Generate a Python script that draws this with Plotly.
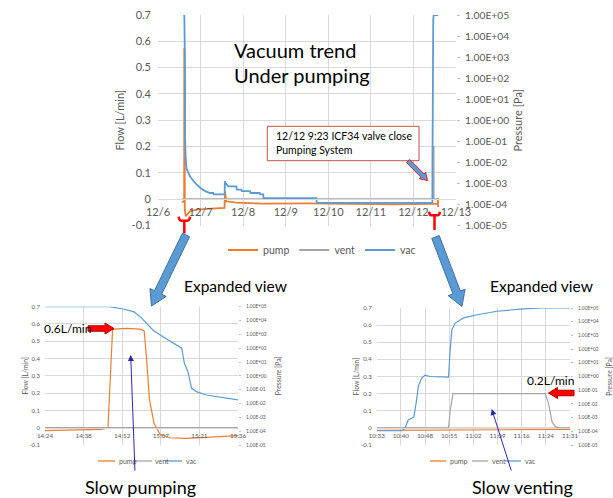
import math
import plotly.graph_objects as go

W, H = 613, 498
FONT = "Lato, 'Open Sans', sans-serif"
GRID = "#D9D9D9"
TXT = "#595959"
C_PUMP, C_VENT, C_VAC = "#ED7D31", "#A5A5A5", "#5B9BD5"

# ---------------- data: main trend (whole week) ----------------
main_pump_time = ["12/6 13:30", "12/6 14:45", "12/6 14:49", "12/6 15:00", "12/6 15:07", "12/6 15:40",
                  "12/6 18:00", "12/6 22:00", "12/7 06:00", "12/7 13:30", "12/7 13:45", "12/7 14:30",
                  "12/7 20:00", "12/8 11:00", "12/9 12:00", "12/10 12:00", "12/11 12:00", "12/12 10:30",
                  "12/12 13:40", "12/12 13:48", "12/12 13:55"]
main_pump_flow = [-0.01, -0.01, 0.57, 0.57, -0.04, -0.065,
                  -0.046, -0.04, -0.036, -0.033, 0.03, -0.008,
                  -0.013, -0.017, -0.016, -0.017, -0.02, -0.018,
                  -0.018, 0.004, -0.03]
main_vent_time = ["12/6 13:30", "12/12 10:55", "12/12 10:56", "12/12 11:23", "12/12 11:26", "12/12 13:55"]
main_vent_flow = [0.0, 0.0, 0.2, 0.2, 0.0, 0.0]
main_vac_time = ["12/6 14:24", "12/6 14:48", "12/6 14:53", "12/6 15:00", "12/6 15:07", "12/6 15:15",
                 "12/6 15:18", "12/6 15:21", "12/6 15:36", "12/6 16:05", "12/6 18:00", "12/6 20:53",
                 "12/6 23:46", "12/7 02:38", "12/7 05:17", "12/7 07:12", "12/7 07:26", "12/7 13:35",
                 "12/7 13:41", "12/7 13:55", "12/7 15:36", "12/7 20:10", "12/7 20:24", "12/7 23:02",
                 "12/7 23:17", "12/8 03:50", "12/8 04:05", "12/8 09:22", "12/8 09:36", "12/8 11:17",
                 "12/8 11:31", "12/9 17:17", "12/9 17:31", "12/12 10:42", "12/12 10:45", "12/12 10:48",
                 "12/12 10:55", "12/12 10:56", "12/12 11:00", "12/12 11:10", "12/12 11:23", "12/12 13:55"]
main_vac_pa = [1.0e5, 1.0e5, 6.8e4, 2.0e4, 8.0e2, 1.0e2,
               1.2e-1, 6.3e-2, 1.8e-2, 5.0e-3, 2.2e-3, 1.05e-3,
               6.2e-4, 4.3e-4, 3.5e-4, 3.5e-4, 3.0e-4, 3.0e-4,
               1.26e-3, 1.1e-3, 7.2e-4, 7.2e-4, 5.1e-4, 5.1e-4,
               4.3e-4, 4.3e-4, 3.5e-4, 3.5e-4, 3.0e-4, 3.0e-4,
               2.0e-4, 2.0e-4, 1.2e-4, 1.2e-4, 1.1e-2, 1.3,
               0.9, 2.6e3, 2.0e4, 5.8e4, 1.0e5, 1.0e5]
main_x_ticks = ["12/6", "12/7", "12/8", "12/9", "12/10", "12/11", "12/12", "12/13"]

# ---------------- data: expanded view, slow pumping (12/6) ----------------
pumpdown_time = ["14:24", "14:30", "14:38", "14:45", "14:47:30", "14:48:30", "14:49:12", "14:50",
                 "14:54:30", "14:59:30", "15:01", "15:01:50", "15:03", "15:04:40", "15:06:50",
                 "15:10:30", "15:16:40", "15:24:10", "15:36"]
pumpdown_pump = [-0.017, -0.016, -0.013, -0.01, 0.0, 0.3, 0.565, 0.57,
                 0.575, 0.57, 0.56, 0.41, 0.16, 0.025, -0.037,
                 -0.058, -0.062, -0.056, -0.046]
pumpdown_vent_time = ["14:24", "15:36"]
pumpdown_vent = [0.0, 0.0]
pumpdown_vac_time = ["14:24", "14:48", "14:53", "14:57", "14:59:30", "15:02", "15:04:20", "15:08",
                     "15:12", "15:15", "15:16", "15:17:20", "15:18:40", "15:20:30", "15:24:10",
                     "15:29", "15:36"]
pumpdown_vac = [1.0e5, 1.0e5, 6.8e4, 4.4e4, 1.9e4, 6.3e3, 2.0e3, 6.8e2,
                2.2e2, 1.0e2, 7.9e0, 2.0e0, 1.3e-1, 7.2e-2, 4.1e-2,
                2.8e-2, 1.8e-2]
pumpdown_ticks = ["14:24:00", "14:38:24", "14:52:48", "15:07:12", "15:21:36", "15:36:00"]

# ---------------- data: expanded view, slow venting (12/12) ----------------
venting_pump_time = ["10:33:36", "10:45", "10:55", "11:05", "11:15", "11:31:12"]
venting_pump = [-0.015, -0.014, -0.013, -0.012, -0.011, -0.009]
venting_vent_time = ["10:33:36", "10:55", "10:55:30", "10:56:20", "11:23:50", "11:24:50",
                     "11:25:50", "11:26:50", "11:28", "11:31:12"]
venting_vent = [0.0, 0.0, 0.1, 0.2, 0.2, 0.14, 0.036, 0.007, 0.0, 0.0]
venting_vac_time = ["10:33:36", "10:41", "10:42", "10:43", "10:44", "10:44:40", "10:45:20", "10:46",
                    "10:47", "10:48", "10:49:30", "10:52", "10:55", "10:55:30", "10:56", "10:57",
                    "10:59:30", "11:03:30", "11:09:30", "11:17", "11:23", "11:31:12"]
venting_vac = [1.1e-4, 1.1e-4, 1.6e-4, 6.8e-4, 8.9e-4, 1.1e-3, 1.1e-2, 1.9e-1,
               7.6e-1, 1.26, 1.0, 1.0, 0.9, 8.9e1, 2.6e3, 7.9e3,
               1.9e4, 3.2e4, 5.8e4, 8.5e4, 1.0e5, 1.0e5]
venting_ticks = ["10:33:36", "10:40:48", "10:48:00", "10:55:12", "11:02:24", "11:09:36",
                 "11:16:48", "11:24:00", "11:31:12"]

series_names = ["pump", "vent", "vac"]
flow_ticks = [-0.1, 0.0, 0.1, 0.2, 0.3, 0.4, 0.5, 0.6, 0.7]
flow_tick_labels = ["-0.1", "0", "0.1", "0.2", "0.3", "0.4", "0.5", "0.6", "0.7"]
pressure_exponents = [-5, -4, -3, -2, -1, 0, 1, 2, 3, 4, 5]
pressure_tick_labels = ["1.00E-05", "1.00E-04", "1.00E-03", "1.00E-02", "1.00E-01", "1.00E+00",
                        "1.00E+01", "1.00E+02", "1.00E+03", "1.00E+04", "1.00E+05"]


def dec_day(s):
    d, t = s.split()
    parts = [int(p) for p in t.split(":")]
    return int(d.split("/")[1]) + parts[0] / 24 + parts[1] / 1440


def minutes(s):
    parts = [int(p) for p in s.split(":")] + [0]
    return parts[0] * 60 + parts[1] + parts[2] / 60


def px(x):
    return x / W


def py(y):
    return 1 - y / H


fig = go.Figure()
COLORS = [C_PUMP, C_VENT, C_VAC]


def add_set(series, xa, ya, yb, width, showleg):
    for (xs, ys), name, col, yax in zip(series, series_names, COLORS, [ya, ya, yb]):
        fig.add_trace(go.Scatter(x=xs, y=ys, name=name, mode="lines", xaxis=xa, yaxis=yax,
                                 line=dict(color=col, width=width), showlegend=showleg,
                                 legendgroup=name))


add_set([([dec_day(t) for t in main_pump_time], main_pump_flow),
         ([dec_day(t) for t in main_vent_time], main_vent_flow),
         ([dec_day(t) for t in main_vac_time], main_vac_pa)], "x", "y", "y2", 1.8, True)
add_set([([minutes(t) for t in pumpdown_time], pumpdown_pump),
         ([minutes(t) for t in pumpdown_vent_time], pumpdown_vent),
         ([minutes(t) for t in pumpdown_vac_time], pumpdown_vac)], "x2", "y3", "y4", 1.2, False)
add_set([([minutes(t) for t in venting_pump_time], venting_pump),
         ([minutes(t) for t in venting_vent_time], venting_vent),
         ([minutes(t) for t in venting_vac_time], venting_vac)], "x3", "y5", "y6", 1.2, False)


def axes(xname, yname, yref, y2name, xref, xdom, ydom, xrange, xticks, xlabels, st):
    zero_pos = ydom[0] + (0 - (-0.1)) / 0.8 * (ydom[1] - ydom[0])

    def f(sz):
        return dict(family=FONT, size=sz, color=TXT)

    fig.layout[xname] = dict(domain=xdom, anchor="free", position=zero_pos, range=xrange,
                             tickmode="array", tickvals=xticks, ticktext=xlabels, automargin=False,
                             showgrid=True, gridcolor=GRID, gridwidth=1, showline=True,
                             linecolor=GRID, zeroline=False, ticks="", ticklabelstandoff=st["xs"],
                             tickfont=f(st["xf"]))
    fig.layout[yname] = dict(domain=ydom, range=[-0.1, 0.7], tickmode="array", automargin=False,
                             tickvals=flow_ticks, ticktext=flow_tick_labels, showgrid=True,
                             gridcolor=GRID, zeroline=False, showline=False, ticks="",
                             ticklabelstandoff=st["ls"], tickfont=f(st["lf"]), anchor=xref,
                             title=dict(text="Flow [L/min]", font=f(st["tf"]), standoff=st["lt"]))
    fig.layout[y2name] = dict(overlaying=yref, side="right", type="log", range=[-5, 5],
                              tickmode="array", automargin=False,
                              tickvals=[10.0 ** e for e in pressure_exponents],
                              ticktext=pressure_tick_labels, showgrid=False, zeroline=False,
                              ticks="outside", ticklen=st["rl"], tickcolor="#BFBFBF",
                              ticklabelstandoff=st["rs"], tickfont=f(st["rf"]), anchor=xref,
                              title=dict(text="Pressure [Pa]", font=f(st["tf"]), standoff=st["rt"]))


main_style = dict(xf=11, xs=3, lf=11, ls=6, rf=10.3, rl=3, rs=3, tf=11, lt=4, rt=6)
small_style = dict(xf=6.3, xs=2, lf=6, ls=4, rf=4.8, rl=2, rs=4, tf=6.8, lt=0, rt=10)

axes("xaxis", "yaxis", "y", "yaxis2", "x", [px(158), px(456)], [py(225.5), py(15)],
     [6, 13], list(range(6, 14)), main_x_ticks, main_style)
axes("xaxis2", "yaxis3", "y3", "yaxis4", "x2", [px(45), px(238)], [py(445), py(306.7)],
     [minutes(pumpdown_ticks[0]), minutes(pumpdown_ticks[-1])],
     [minutes(t) for t in pumpdown_ticks], [t[:5] for t in pumpdown_ticks], small_style)
axes("xaxis3", "yaxis5", "y5", "yaxis6", "x3", [px(376.7), px(570)], [py(445), py(308)],
     [minutes(venting_ticks[0]), minutes(venting_ticks[-1])],
     [minutes(t) for t in venting_ticks], [t[:5] for t in venting_ticks], small_style)

fig.update_layout(legend=dict(orientation="h", x=px(322), y=py(250), xanchor="center",
                              yanchor="middle", font=dict(family=FONT, size=10.5, color=TXT),
                              bgcolor="rgba(0,0,0,0)", itemwidth=30, tracegroupgap=0))

shapes = []
ann = []


def small_legend(x_starts, y, seg, fs):
    # compact legend rows under the expanded-view charts
    for x0, name, col in zip(x_starts, series_names, COLORS):
        shapes.append(dict(type="line", xref="paper", yref="paper", x0=px(x0), x1=px(x0 + seg),
                           y0=py(y), y1=py(y), line=dict(color=col, width=1.3)))
        ann.append(dict(text=name, xref="paper", yref="paper", x=px(x0 + seg + 1.5), y=py(y),
                        xanchor="left", yanchor="middle", showarrow=False,
                        font=dict(family=FONT, size=fs, color=TXT)))


small_legend([98, 135, 165], 461, 17, 7)
small_legend([430, 472, 505], 461, 16, 7)


def block_arrow(x0, y0, x1, y1, shaft, hw, hl, fill, outline, lw=1):
    dx, dy = x1 - x0, y1 - y0
    L = math.hypot(dx, dy)
    ux, uy = dx / L, dy / L
    nx, ny = -uy, ux
    bx, by = x1 - ux * hl, y1 - uy * hl
    pts = [(x0 + nx * shaft / 2, y0 + ny * shaft / 2), (bx + nx * shaft / 2, by + ny * shaft / 2),
           (bx + nx * hw / 2, by + ny * hw / 2), (x1, y1), (bx - nx * hw / 2, by - ny * hw / 2),
           (bx - nx * shaft / 2, by - ny * shaft / 2), (x0 - nx * shaft / 2, y0 - ny * shaft / 2)]
    path = "M " + " L ".join(f"{px(a):.5f},{py(b):.5f}" for a, b in pts) + " Z"
    shapes.append(dict(type="path", xref="paper", yref="paper", path=path, fillcolor=fill,
                       line=dict(color=outline, width=lw)))


def bracket(xl, xr, ytop, ybar, xs, ystem):
    path = (f"M {px(xl)},{py(ytop)} Q {px(xl + 0.5)},{py(ybar)} {px(xl + 2.5)},{py(ybar)} "
            f"L {px(xr - 2.5)},{py(ybar)} Q {px(xr - 0.5)},{py(ybar)} {px(xr)},{py(ytop)}")
    shapes.append(dict(type="path", xref="paper", yref="paper", path=path,
                       line=dict(color="#FF0000", width=2.5)))
    shapes.append(dict(type="line", xref="paper", yref="paper", x0=px(xs), x1=px(xs),
                       y0=py(ybar), y1=py(ystem), line=dict(color="#FF0000", width=2.5)))


bracket(178.7, 190, 216.7, 220.7, 184.3, 233.5)
bracket(429, 440, 211.7, 215.2, 434.5, 230)

block_arrow(186, 235, 151.5, 306, 8, 18, 15, C_VAC, "#41719C")
block_arrow(435.5, 237, 462, 306.5, 8, 18, 15, C_VAC, "#41719C")

shapes.append(dict(type="rect", xref="paper", yref="paper", x0=px(267.3), x1=px(419),
                   y0=py(160.7), y1=py(126.3), fillcolor="white", line=dict(color="#C0504D", width=1)))
block_arrow(408, 161, 427.5, 180.5, 4.5, 9, 7, C_VAC, "#E02020", 1)

block_arrow(88, 328.5, 114, 328.5, 5.5, 11, 9, "#FF0000", "#B00000", 1)
block_arrow(574, 393, 548.5, 393, 5.5, 11, 9, "#FF0000", "#B00000", 1)

fig.update_layout(shapes=shapes)


def text(s, x, y, size, anchor="left"):
    ann.append(dict(text=s, xref="paper", yref="paper", x=px(x), y=py(y), xanchor=anchor,
                    yanchor="middle", showarrow=False, align="left",
                    font=dict(family=FONT, size=size, color="black")))


text("Vacuum trend", 232, 50, 20)
text("Under pumping", 232, 75, 20)
text("12/12 9:23 ICF34 valve close<br>Pumping System", 274, 142.5, 10.5)
text("Expanded view", 182.5, 286, 15.5)
text("Expanded view", 487.5, 286, 15.5)
text("0.6L/min", 41.5, 328, 12)
text("0.2L/min", 524.5, 380, 12)
text("Slow pumping", 82.5, 486.5, 18)
text("Slow venting", 469.5, 486.5, 18)


def thin_arrow(xh, yh, xt, yt):
    ann.append(dict(text="", xref="paper", yref="paper", x=px(xh), y=py(yh), ax=xt - xh, ay=yt - yh,
                    showarrow=True, arrowhead=2, arrowsize=1.2, arrowwidth=1, arrowcolor="#2A2AA8"))


thin_arrow(130.7, 355, 135, 472)
thin_arrow(491.7, 409, 511.7, 472)

fig.update_layout(annotations=ann)

fig.update_layout(width=W, height=H, autosize=False,
                  margin=dict(l=0, r=0, t=0, b=0, pad=0, autoexpand=False),
                  paper_bgcolor="white", plot_bgcolor="white",
                  font=dict(family=FONT, color=TXT))

fig.write_html("out.html", config={"displayModeBar": False},
               post_script="document.body.style.margin='0px';document.body.style.overflow='hidden';")
